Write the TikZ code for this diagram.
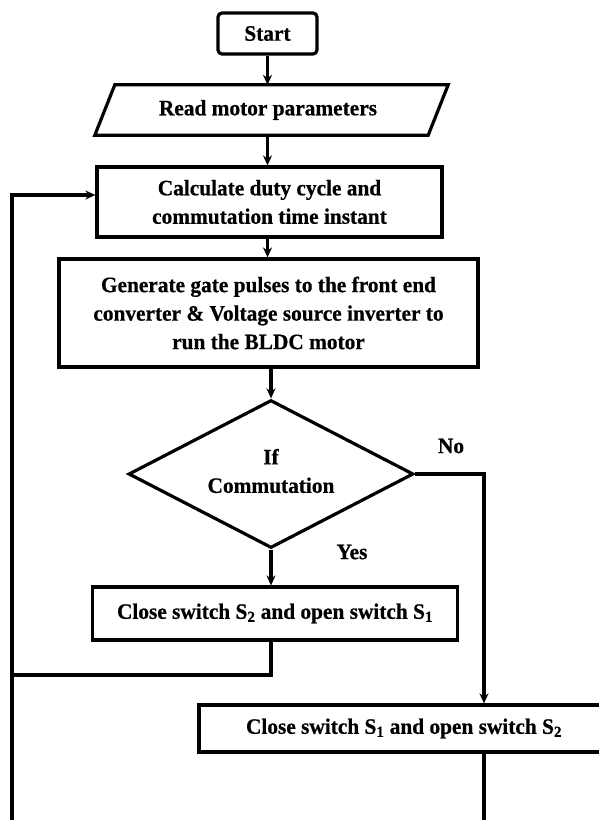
\documentclass[tikz,border=0pt]{standalone}
\usepackage{fontspec}
\setmainfont{Liberation Serif}[FakeStretch=0.97,BoldFeatures={FakeBold=0.6}]
\usetikzlibrary{shapes.geometric,arrows.meta}
\begin{document}
\begin{tikzpicture}[x=1pt,y=-1pt,
  every node/.style={font=\fontsize{22}{28.5}\selectfont\bfseries, inner sep=0pt, align=center},
  box/.style={draw, line width=3.2pt, minimum width=#1},
  startbox/.style={draw, line width=3.2pt, rounded corners=4pt, minimum width=99pt, minimum height=41pt},
  iotext/.style={minimum width=333pt, minimum height=50pt},
  iobox/.style={line width=3.2pt, line join=miter},
  decbox/.style={draw, line width=3.2pt, diamond, aspect=1.93, minimum width=285pt, minimum height=148pt},
  conn/.style={line width=3.4pt},
  arr/.style={conn, -{Stealth[length=10pt,width=9pt]}},
  lbl/.style={font=\fontsize{22}{26}\selectfont\bfseries}]
\useasboundingbox (0,0) rectangle (599,820);
\fill[white] (0,0) rectangle (599,820);

\node[startbox] (start) at (267.5,33.5) {Start};
\node[iotext] (read) at (271.5,110) {};
\draw[iobox] ([xshift=-10pt]read.south west) -- ([xshift=10pt]read.north west)
   -- ([xshift=10pt]read.north east) -- ([xshift=-10pt]read.south east) -- cycle;
\node (readtxt) at (268,110) {Read motor parameters};
\node[box=345pt, minimum height=70pt] (calc) at (269.5,202) {Calculate duty cycle and\\commutation time instant};
\node[box=419pt, minimum height=108pt] (gen) at (268.5,313) {Generate gate pulses to the front end\\converter \& Voltage source inverter to\\run the BLDC motor};
\node[decbox] (dec) at (271,474) {};
\node (dectxt) at (271,471) {If\\Commutation};
\node[box=365pt, minimum height=53pt] (s2) at (275,613.5) {Close switch S\textsubscript{2} and open switch S\textsubscript{1}};
\node[box=410pt, minimum height=47pt] (s1) at (404,728.5) {Close switch S\textsubscript{1} and open switch S\textsubscript{2}};

\node[lbl] (no) at (451,446) {No};
\node[lbl] (yes) at (352,552) {Yes};

\coordinate (l1) at (12,675);
\coordinate (l2) at (12,195);
\coordinate (r1) at (484,474);
\coordinate (b1) at (484,824);
\coordinate (b2) at (12,824);

\draw[arr] (start.south) -- (start.south |- read.north);
\draw[arr] (read.south -| start.south) -- (start.south |- calc.north);
\draw[arr] (calc.south -| start.south) -- (start.south |- gen.north);
\draw[arr] (gen.south -| dec.north) -- (dec.north);
\draw[arr] (dec.south) -- (dec.south |- s2.north);
\draw[arr] (dec.east) -- (r1) -- (r1 |- s1.north);
\draw[conn] (s2.south -| dec.south) -- (dec.south |- l1) -- (l1) -- (b2);
\draw[arr] (l1) -- (l2) -- (l2 -| calc.west);
\draw[conn] (r1 |- s1.south) -- (b1) -- (b2);
\end{tikzpicture}
\end{document}
